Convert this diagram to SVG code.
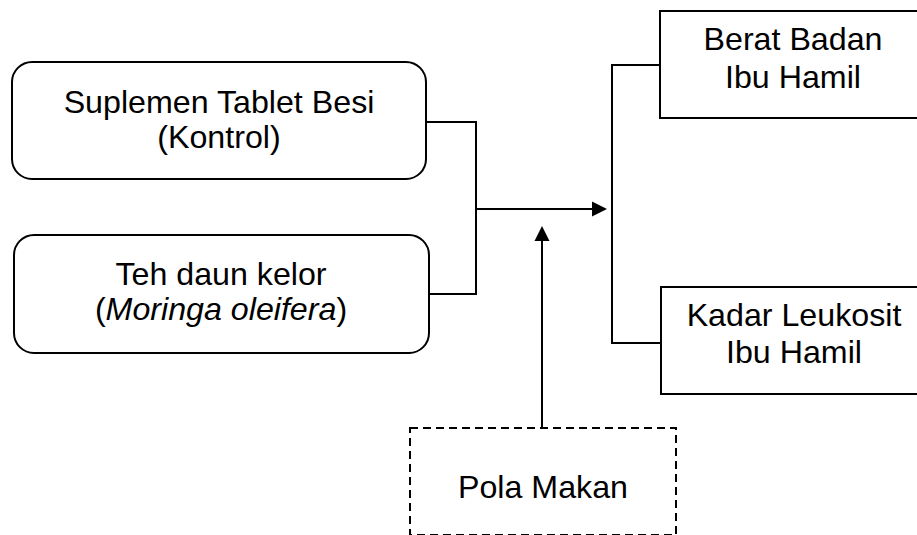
<svg xmlns="http://www.w3.org/2000/svg" width="917" height="535" viewBox="0 0 917 535">
<defs>
<style>
.box{fill:#fff;stroke:#000;stroke-width:2}
.dash{fill:#fff;stroke:#000;stroke-width:2;stroke-dasharray:8 5}
.ln{fill:none;stroke:#000;stroke-width:2}
text{font-family:"Liberation Sans",Arial,sans-serif;font-size:32.2px;fill:#000;text-anchor:middle}
</style>
</defs>
<g id="connectors">
<path class="ln" d="M426,122 H476 V294 H429"/>
<path class="ln" d="M476,209 H598"/>
<path d="M607,209 L592,201.5 L592,216.5 z" fill="#000"/>
<path class="ln" d="M542,428 V240"/>
<path d="M542,226 L534.5,241 L549.5,241 z" fill="#000"/>
<path class="ln" d="M660,65 H612 V343 H661"/>
</g>
<g id="node-tablet">
<rect class="box" x="12" y="62" width="414" height="117" rx="20"/>
<text x="219" y="113">Suplemen Tablet Besi</text>
<text x="219" y="148">(Kontrol)</text>
</g>
<g id="node-kelor">
<rect class="box" x="14" y="235" width="415" height="118" rx="20"/>
<text x="221" y="285">Teh daun kelor</text>
<text x="221" y="320">(<tspan font-style="italic">Moringa oleifera</tspan>)</text>
</g>
<g id="node-berat">
<rect class="box" x="660" y="11" width="270" height="107"/>
<text x="793" y="50">Berat Badan</text>
<text x="793" y="88">Ibu Hamil</text>
</g>
<g id="node-leukosit">
<rect class="box" x="661" y="287" width="270" height="107"/>
<text x="794" y="326">Kadar Leukosit</text>
<text x="794" y="363">Ibu Hamil</text>
</g>
<g id="node-pola">
<rect class="dash" x="410" y="428" width="266" height="107"/>
<text x="543" y="498">Pola Makan</text>
</g>
</svg>
